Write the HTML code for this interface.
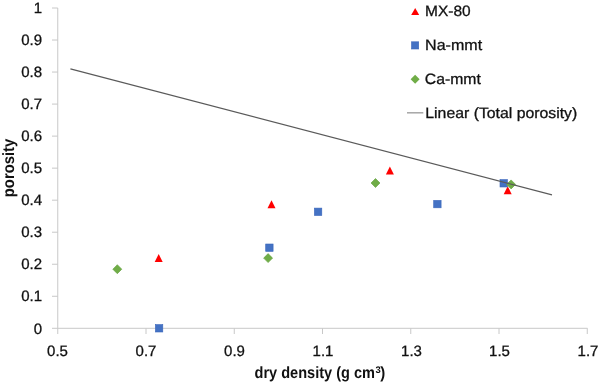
<!DOCTYPE html>
<html><head><meta charset="utf-8"><style>
html,body{margin:0;padding:0;background:#fff;width:600px;height:384px;overflow:hidden}
svg{display:block;will-change:transform}
text{font-family:"Liberation Sans",sans-serif;fill:#111;stroke:#111;stroke-width:0.3;text-rendering:geometricPrecision}
.b text{stroke:none}
</style></head><body>
<svg width="600" height="384" viewBox="0 0 600 384">
<!-- axes -->
<g stroke="#c8c8c8" stroke-width="1" fill="none">
<line x1="57.75" y1="8" x2="57.75" y2="328.3"/>
<line x1="52" y1="328.3" x2="587.5" y2="328.3"/>
<path d="M52 296.27H57.75M52 264.24H57.75M52 232.21H57.75M52 200.18H57.75M52 168.15H57.75M52 136.12H57.75M52 104.09H57.75M52 72.06H57.75M52 40.03H57.75M52 8.00H57.75"/>
<path d="M57.75 328.3V334M146.00 328.3V334M234.25 328.3V334M322.50 328.3V334M410.75 328.3V334M499.00 328.3V334M587.25 328.3V334"/>
</g>
<!-- y labels -->
<g font-size="15" text-anchor="end">
<text x="42" y="13.3">1</text>
<text x="42" y="45.3">0.9</text>
<text x="42" y="77.3">0.8</text>
<text x="42" y="109.3">0.7</text>
<text x="42" y="141.3">0.6</text>
<text x="42" y="173.3">0.5</text>
<text x="42" y="205.3">0.4</text>
<text x="42" y="237.3">0.3</text>
<text x="42" y="269.3">0.2</text>
<text x="42" y="301.3">0.1</text>
<text x="42" y="333.6">0</text>
</g>
<!-- x labels -->
<g font-size="15" text-anchor="middle">
<text x="57.5" y="356">0.5</text>
<text x="146" y="356">0.7</text>
<text x="234.5" y="356">0.9</text>
<text x="323" y="356">1.1</text>
<text x="411.5" y="356">1.3</text>
<text x="499.5" y="356">1.5</text>
<text x="588" y="356">1.7</text>
</g>
<!-- axis titles -->
<g class="b" font-size="16.3" font-weight="bold">
<text x="254.6" y="378" textLength="120.3" lengthAdjust="spacingAndGlyphs">dry density (g cm</text>
<text x="375.6" y="373" font-size="9.5">3</text>
<text x="380.2" y="378.4" textLength="5" lengthAdjust="spacingAndGlyphs">)</text>
<text transform="translate(14,197.2) rotate(-90)" textLength="58.4" lengthAdjust="spacingAndGlyphs">porosity</text>
</g>
<!-- MX-80 triangles -->
<g fill="#ff0000">
<path d="M158.70 254.00L162.70 262.00L154.70 262.00Z"/>
<path d="M271.50 200.30L275.50 208.30L267.50 208.30Z"/>
<path d="M389.90 166.40L393.90 174.40L385.90 174.40Z"/>
<path d="M507.70 186.20L511.70 194.20L503.70 194.20Z"/>
</g>
<!-- Na-mmt squares -->
<g fill="#4472c4" stroke="#3a66bb" stroke-width="0.6">
<rect x="155.40" y="324.60" width="7.4" height="7.4"/>
<rect x="265.70" y="244.00" width="7.4" height="7.4"/>
<rect x="314.40" y="208.10" width="7.4" height="7.4"/>
<rect x="433.70" y="200.40" width="7.4" height="7.4"/>
<rect x="500.00" y="179.60" width="7.4" height="7.4"/>
</g>
<!-- Ca-mmt diamonds -->
<g fill="#70ad47" stroke="#62a03c" stroke-width="0.6">
<path d="M117.30 264.70L121.80 269.20L117.30 273.70L112.80 269.20Z"/>
<path d="M268.10 253.60L272.60 258.10L268.10 262.60L263.60 258.10Z"/>
<path d="M375.50 178.50L380.00 183.00L375.50 187.50L371.00 183.00Z"/>
<path d="M511.10 179.90L515.60 184.40L511.10 188.90L506.60 184.40Z"/>
</g>
<!-- trendline -->
<line x1="70.4" y1="68.9" x2="552" y2="194.9" stroke="#5a5a5a" stroke-width="1.15"/>
<!-- legend -->
<path d="M415.2 8L419.2 15L411.2 15Z" fill="#ff0000"/>
<rect x="411.5" y="41.8" width="7.2" height="7.2" fill="#4472c4" stroke="#3c68bc" stroke-width="0.6"/>
<path d="M415.1 74.8L419.6 79.3L415.1 83.8L410.6 79.3Z" fill="#70ad47"/>
<line x1="407" y1="112.8" x2="423.3" y2="112.8" stroke="#a6a6a6" stroke-width="1.5"/>
<g font-size="15">
<text x="425.1" y="16.2" textLength="45.6" lengthAdjust="spacingAndGlyphs">MX-80</text>
<text x="425.1" y="50" textLength="57" lengthAdjust="spacingAndGlyphs">Na-mmt</text>
<text x="424.8" y="84" textLength="56" lengthAdjust="spacingAndGlyphs">Ca-mmt</text>
<text x="425.3" y="118" textLength="152" lengthAdjust="spacingAndGlyphs">Linear (Total porosity)</text>
</g>
</svg>
</body></html>
